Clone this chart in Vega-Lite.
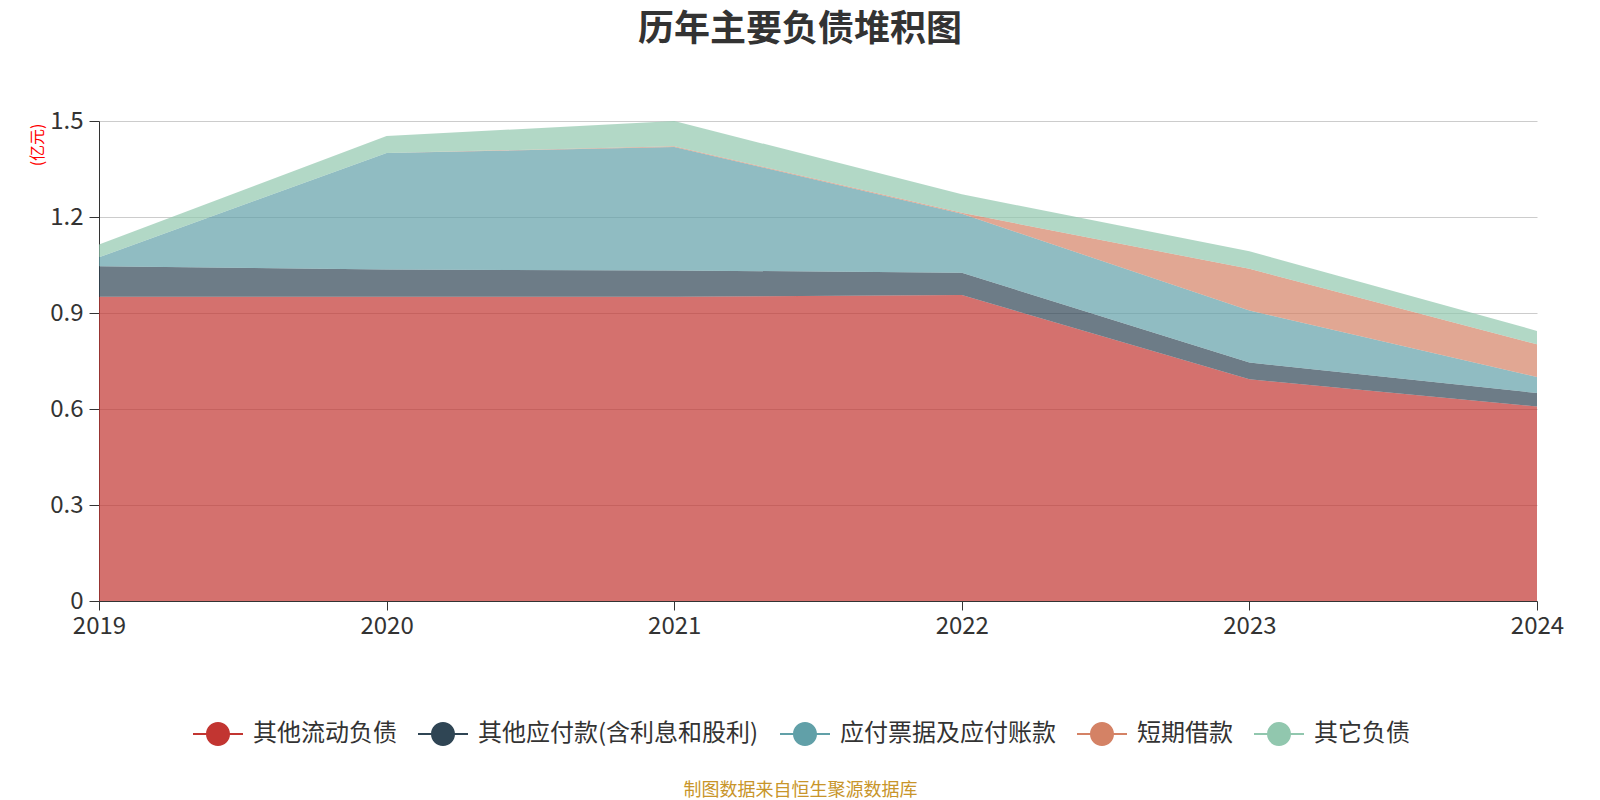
{
  "$schema": "https://vega.github.io/schema/vega-lite/v6.json",
  "autosize": {"type": "none"},
  "width": 1438,
  "height": 480,
  "padding": {"left": 99, "top": 121, "right": 63, "bottom": 199},
  "background": "white",
  "config": {
    "font": "Noto Sans CJK SC",
    "view": {"stroke": null}
  },
  "title": {
    "text": "历年主要负债堆积图",
    "fontSize": 36,
    "fontWeight": "bold",
    "color": "#333333",
    "anchor": "middle",
    "dx": -18,
    "offset": 60
  },
  "data": {
    "values": [
      {"year": "2019", "series": "其他流动负债", "value": 0.951},
      {"year": "2020", "series": "其他流动负债", "value": 0.951},
      {"year": "2021", "series": "其他流动负债", "value": 0.951},
      {"year": "2022", "series": "其他流动负债", "value": 0.956},
      {"year": "2023", "series": "其他流动负债", "value": 0.693},
      {"year": "2024", "series": "其他流动负债", "value": 0.608},
      {"year": "2019", "series": "其他应付款(含利息和股利)", "value": 0.095},
      {"year": "2020", "series": "其他应付款(含利息和股利)", "value": 0.085},
      {"year": "2021", "series": "其他应付款(含利息和股利)", "value": 0.082},
      {"year": "2022", "series": "其他应付款(含利息和股利)", "value": 0.07},
      {"year": "2023", "series": "其他应付款(含利息和股利)", "value": 0.052},
      {"year": "2024", "series": "其他应付款(含利息和股利)", "value": 0.042},
      {"year": "2019", "series": "应付票据及应付账款", "value": 0.028},
      {"year": "2020", "series": "应付票据及应付账款", "value": 0.364},
      {"year": "2021", "series": "应付票据及应付账款", "value": 0.386},
      {"year": "2022", "series": "应付票据及应付账款", "value": 0.184},
      {"year": "2023", "series": "应付票据及应付账款", "value": 0.163},
      {"year": "2024", "series": "应付票据及应付账款", "value": 0.05},
      {"year": "2019", "series": "短期借款", "value": 0},
      {"year": "2020", "series": "短期借款", "value": 0},
      {"year": "2021", "series": "短期借款", "value": 0.002},
      {"year": "2022", "series": "短期借款", "value": 0.003},
      {"year": "2023", "series": "短期借款", "value": 0.13},
      {"year": "2024", "series": "短期借款", "value": 0.102},
      {"year": "2019", "series": "其它负债", "value": 0.04},
      {"year": "2020", "series": "其它负债", "value": 0.053},
      {"year": "2021", "series": "其它负债", "value": 0.079},
      {"year": "2022", "series": "其它负债", "value": 0.058},
      {"year": "2023", "series": "其它负债", "value": 0.055},
      {"year": "2024", "series": "其它负债", "value": 0.042}
    ]
  },
  "transform": [
    {"calculate": "indexof(['其他流动负债','其他应付款(含利息和股利)','应付票据及应付账款','短期借款','其它负债'], datum.series)", "as": "ord"}
  ],
  "mark": {"type": "area", "opacity": 0.7},
  "encoding": {
    "x": {
      "field": "year",
      "type": "ordinal",
      "scale": {"type": "point", "padding": 0},
      "axis": {
        "labelAngle": 0,
        "labelFontSize": 24,
        "labelColor": "#333333",
        "labelPadding": 4,
        "tickSize": 9,
        "tickColor": "#333333",
        "domainColor": "#333333",
        "grid": false,
        "title": "制图数据来自恒生聚源数据库",
        "titleFontSize": 18,
        "titleFontWeight": "normal",
        "titleColor": "#c8952a",
        "titleX": 701,
        "titleY": 189,
        "titleAlign": "center",
        "titleBaseline": "middle"
      }
    },
    "y": {
      "field": "value",
      "type": "quantitative",
      "stack": "zero",
      "scale": {"domain": [0, 1.5], "nice": false},
      "axis": {
        "values": [0, 0.3, 0.6, 0.9, 1.2, 1.5],
        "format": ".1~f",
        "labelFontSize": 24,
        "labelColor": "#333333",
        "labelPadding": 6,
        "tickSize": 10,
        "tickColor": "#333333",
        "domainColor": "#333333",
        "gridColor": "#cccccc",
        "title": "(亿元)",
        "titleColor": "#ff0000",
        "titleFontSize": 16,
        "titleFontWeight": "normal",
        "titleAngle": -90,
        "titleX": -62,
        "titleY": 2,
        "titleAlign": "right",
        "titleBaseline": "middle"
      }
    },
    "color": {
      "field": "series",
      "type": "nominal",
      "scale": {
        "domain": ["其他流动负债", "其他应付款(含利息和股利)", "应付票据及应付账款", "短期借款", "其它负债"],
        "range": ["#c23531", "#2f4554", "#61a0a8", "#d48265", "#91c7ae"]
      },
      "legend": {
        "orient": "none",
        "legendX": 94,
        "legendY": 588,
        "direction": "horizontal",
        "columns": 5,
        "title": null,
        "symbolType": "M-1,-0.04 L1,-0.04 L1,0.04 L-1,0.04 Z M0.48,0 A0.48,0.48 0 1 1 -0.48,0 A0.48,0.48 0 1 1 0.48,0 Z",
        "symbolSize": 2500,
        "symbolOpacity": 1,
        "symbolStrokeWidth": 0,
        "labelFontSize": 24,
        "labelColor": "#333333",
        "labelOffset": 10,
        "columnPadding": 21,
        "labelLimit": 400
      }
    },
    "order": {"field": "ord", "type": "quantitative"}
  }
}
